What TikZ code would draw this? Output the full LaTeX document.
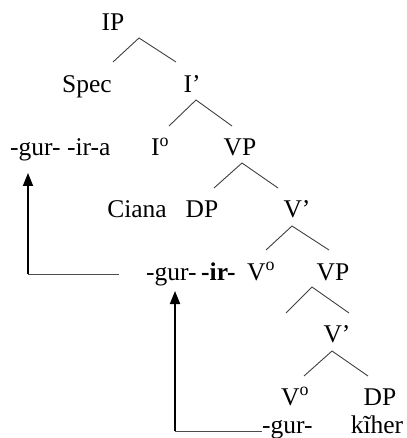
\documentclass[tikz,border=0pt]{standalone}
\usepackage{fontspec}
\setmainfont{Liberation Serif}
\usetikzlibrary{arrows.meta}
\begin{document}
\begin{tikzpicture}[x=1pt,y=-1pt,
  lbl/.style={anchor=base,inner sep=0pt,font=\fontsize{25.5}{29}\selectfont},
  lblw/.style={anchor=base west,inner sep=0pt,font=\fontsize{25.5}{29}\selectfont},
  branch/.style={draw=black!75,line width=0.9pt},
  moveh/.style={draw=black!70,line width=0.9pt},
  movev/.style={draw=black,line width=1.8pt,-{Triangle[length=13pt,width=10pt]}}]
\useasboundingbox (0,0) rectangle (406,438);
% nodes
\node[lbl] (IP) at (113,31) {IP};
\node[lbl] (Spec) at (87,93) {Spec};
\node[lbl] (Ibar) at (192,93) {I’};
\node[lblw] (gurira) at (10,156) {-gur- -ir-a};
\node[lbl] (I0) at (160,156) {I\textsuperscript{o}};
\node[lbl] (VP1) at (240,156) {VP};
\node[lbl] (Ciana) at (137,217) {Ciana};
\node[lbl] (DP1) at (202,217) {DP};
\node[lbl] (Vbar1) at (297,217) {V’};
\node[lblw] (gur1) at (146,280) {-gur-};
\node[lblw] (ir) at (201,280) {\textbf{-ir-}};
\node[lbl] (V01) at (261,280) {V\textsuperscript{o}};
\node[lbl] (VP2) at (333,280) {VP};
\node[lbl] (Vbar2) at (337,342) {V’};
\node[lbl] (V02) at (295,405) {V\textsuperscript{o}};
\node[lbl] (DP2) at (380,405) {DP};
\node[lblw] (gur2) at (262,433) {-gur-};
\node[lbl] (kiher) at (377,433) {kĩher};
% branch coordinates
\coordinate (a1) at (139,38); \coordinate (l1) at (113,62); \coordinate (r1) at (176,62);
\coordinate (a2) at (196,100); \coordinate (l2) at (169,126); \coordinate (r2) at (232,126);
\coordinate (a3) at (242,163); \coordinate (l3) at (214,188); \coordinate (r3) at (278,188);
\coordinate (a4) at (292,226); \coordinate (l4) at (266,250); \coordinate (r4) at (329,250);
\coordinate (a5) at (312,287); \coordinate (l5) at (286,313); \coordinate (r5) at (349,313);
\coordinate (a6) at (332,351); \coordinate (l6) at (304,376); \coordinate (r6) at (368,376);
\foreach \i in {1,...,6}{\draw[branch] (l\i) -- (a\i) -- (r\i);}
% movement arrows
\coordinate (m1s) at (119,274); \coordinate (m1c) at (28,274); \coordinate (m1t) at (28,173);
\coordinate (m2s) at (262,431); \coordinate (m2c) at (175,431); \coordinate (m2t) at (175,291);
\draw[moveh] (m1s) -- (m1c);
\draw[movev] (m1c) -- (m1t);
\draw[moveh] (m2s) -- (m2c);
\draw[movev] (m2c) -- (m2t);
\end{tikzpicture}
\end{document}
